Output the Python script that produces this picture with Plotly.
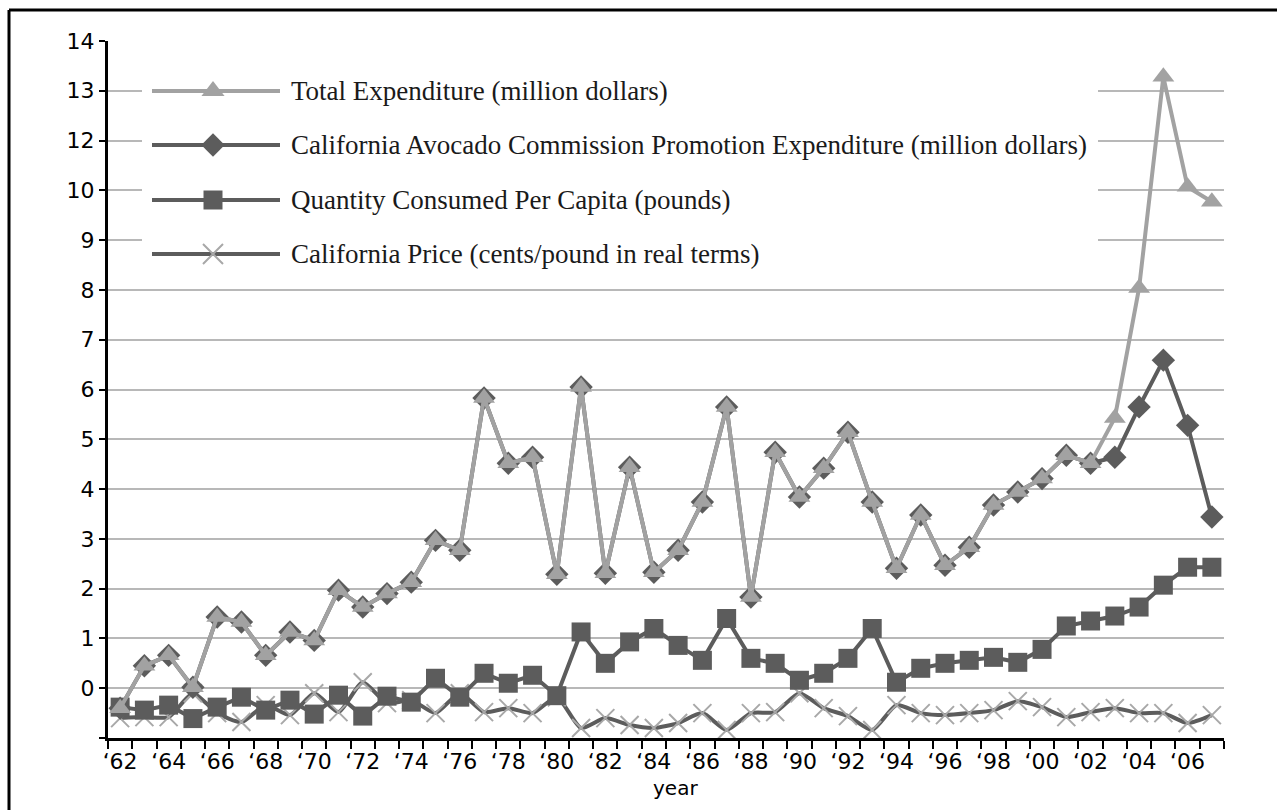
import plotly.graph_objects as go

# ---------------- data ----------------
years = list(range(1962, 2008))

total_expenditure = [-0.4, 0.45, 0.66, 0.02, 1.43, 1.33, 0.66, 1.13, 0.96, 1.97,
                     1.63, 1.9, 2.13, 2.97, 2.77, 5.83, 4.52, 4.64, 2.29, 6.05,
                     2.31, 4.44, 2.33, 2.77, 3.74, 5.65, 1.83, 4.74, 3.84, 4.42,
                     5.14, 3.74, 2.41, 3.48, 2.47, 2.83, 3.68, 3.94, 4.21, 4.68,
                     4.52, 5.43, 8.04, 12.28, 10.07, 9.77]

promotion_expenditure = [-0.4, 0.45, 0.66, 0.02, 1.43, 1.33, 0.66, 1.13, 0.96, 1.97,
                         1.63, 1.9, 2.13, 2.97, 2.77, 5.83, 4.52, 4.64, 2.29, 6.05,
                         2.31, 4.44, 2.33, 2.77, 3.74, 5.65, 1.83, 4.74, 3.84, 4.42,
                         5.14, 3.74, 2.41, 3.48, 2.47, 2.83, 3.68, 3.94, 4.21, 4.68,
                         4.52, 4.64, 5.65, 6.59, 5.28, 3.44]

quantity_per_capita = [-0.38, -0.44, -0.34, -0.61, -0.38, -0.18, -0.44, -0.24, -0.52, -0.14,
                       -0.56, -0.16, -0.28, 0.2, -0.18, 0.3, 0.1, 0.26, -0.15, 1.13,
                       0.5, 0.93, 1.2, 0.86, 0.56, 1.4, 0.6, 0.5, 0.16, 0.3,
                       0.6, 1.2, 0.12, 0.4, 0.5, 0.56, 0.62, 0.52, 0.78, 1.25,
                       1.35, 1.45, 1.63, 2.07, 2.43, 2.43]

california_price = [-0.6, -0.58, -0.58, -0.1, -0.5, -0.68, -0.34, -0.54, -0.1, -0.48,
                     0.12, -0.3, -0.24, -0.5, -0.1, -0.48, -0.4, -0.5, -0.18, -0.8,
                     -0.6, -0.74, -0.8, -0.7, -0.5, -0.84, -0.5, -0.48, -0.1, -0.4,
                     -0.56, -0.84, -0.34, -0.5, -0.54, -0.5, -0.44, -0.26, -0.38, -0.58,
                     -0.48, -0.4, -0.5, -0.5, -0.7, -0.54]

x_tick_years = list(range(1962, 2008, 2))
x_tick_labels = ["\u2018" + str(y)[2:] for y in x_tick_years]

y_tick_positions = list(range(-1, 14))
y_tick_labels = ["", "0", "1", "2", "3", "4", "5", "6", "7", "8", "9", "10", "12", "13", "14"]

series_names = [
    "Total Expenditure (million dollars)",
    "California Avocado Commission Promotion Expenditure (million dollars)",
    "Quantity Consumed Per Capita (pounds)",
    "California Price (cents/pound in real terms)",
]

# ---------------- styles / layout geometry ----------------
LIGHT = "#a2a2a2"
DARK = "#5c5c5c"
XMARK = "#a8a8a8"
SANS = "'DejaVu Sans', sans-serif"
SERIF = "'Liberation Serif', 'DejaVu Serif', serif"

W, H = 1277, 810
PL, PR, PT, PB = 108, 1224, 41, 738   # plot area in pixels


def px_x(p):
    return (p - PL) / (PR - PL)


def px_y(p):
    return (PB - p) / (PB - PT)


fig = go.Figure()

fig.add_trace(go.Scatter(
    x=years, y=california_price, mode="lines+markers",
    line=dict(color=DARK, width=4, shape="spline", smoothing=0.6),
    marker=dict(symbol="x-thin", size=18, line=dict(color=XMARK, width=2)),
    showlegend=False))

fig.add_trace(go.Scatter(
    x=years, y=quantity_per_capita, mode="lines+markers",
    line=dict(color=DARK, width=4),
    marker=dict(symbol="square", size=19, color=DARK),
    showlegend=False))

fig.add_trace(go.Scatter(
    x=years, y=promotion_expenditure, mode="lines+markers",
    line=dict(color=DARK, width=4),
    marker=dict(symbol="diamond", size=18, color=DARK),
    showlegend=False))

fig.add_trace(go.Scatter(
    x=years, y=total_expenditure, mode="lines+markers",
    line=dict(color=LIGHT, width=4),
    marker=dict(symbol="triangle-up", size=19, color=LIGHT),
    showlegend=False))

# ---------------- custom legend on pixel-like overlay axes ----------------
leg_rows = [91, 145, 200, 254]
leg_colors = [LIGHT, DARK, DARK, DARK]
leg_symbols = ["triangle-up", "diamond", "square", "x-thin"]
leg_sizes = [20, 18, 19, 20]

# white background box that hides the gridlines behind the legend
fig.add_trace(go.Scatter(x=[142, 1098, 1098, 142, 142], y=[56, 56, 276, 276, 56],
                         mode="lines", fill="toself", fillcolor="white",
                         line=dict(width=0, color="white"),
                         xaxis="x2", yaxis="y2", showlegend=False, hoverinfo="skip"))

for r, c, s, sz in zip(leg_rows, leg_colors, leg_symbols, leg_sizes):
    fig.add_trace(go.Scatter(x=[152, 280], y=[r, r], mode="lines",
                             line=dict(color=c, width=4),
                             xaxis="x2", yaxis="y2", showlegend=False, hoverinfo="skip"))
    if s == "x-thin":
        mk = dict(symbol=s, size=sz, line=dict(color=XMARK, width=2))
    else:
        mk = dict(symbol=s, size=sz, color=c)
    fig.add_trace(go.Scatter(x=[213], y=[r], mode="markers", marker=mk,
                             xaxis="x2", yaxis="y2", showlegend=False, hoverinfo="skip"))

annotations = []
for r, name in zip(leg_rows, series_names):
    annotations.append(dict(x=px_x(289), y=px_y(r), xref="paper", yref="paper", text=name,
                            showarrow=False, xanchor="left", yanchor="middle",
                            font=dict(family=SERIF, size=27, color="#1a1a1a")))

annotations.append(dict(x=px_x(675), y=px_y(788), xref="paper", yref="paper", text="year",
                        showarrow=False, xanchor="center", yanchor="middle",
                        font=dict(family=SANS, size=20, color="black")))

# outer frame (top and left edges)
shapes = [
    dict(type="line", xref="paper", yref="paper", x0=px_x(9), x1=px_x(W),
         y0=px_y(10), y1=px_y(10), line=dict(color="black", width=3)),
    dict(type="line", xref="paper", yref="paper", x0=px_x(9), x1=px_x(9),
         y0=px_y(10), y1=px_y(H), line=dict(color="black", width=3)),
]

fig.update_layout(
    width=W, height=H,
    margin=dict(l=PL, r=W - PR, t=PT, b=H - PB),
    paper_bgcolor="white", plot_bgcolor="white",
    showlegend=False,
    shapes=shapes, annotations=annotations,
    xaxis=dict(range=[1961.5, 2007.5], tickvals=x_tick_years, ticktext=x_tick_labels,
               ticks="outside", ticklen=2, tickcolor="rgba(0,0,0,0)",
               showgrid=False, zeroline=False,
               showline=True, linecolor="black", linewidth=3,
               tickfont=dict(family=SANS, size=22, color="black"),
               minor=dict(tick0=1961.5, dtick=1, ticks="outside", ticklen=8,
                          tickwidth=2, tickcolor="black", showgrid=False)),
    yaxis=dict(range=[-1, 13], tickvals=y_tick_positions, ticktext=y_tick_labels,
               ticks="outside", ticklen=6, tickwidth=2, tickcolor="black",
               showgrid=True, gridcolor="#b8b8b8", gridwidth=2, zeroline=False,
               showline=True, linecolor="black", linewidth=3,
               tickfont=dict(family=SANS, size=22, color="black")),
    xaxis2=dict(range=[PL, PR], overlaying="x", visible=False),
    yaxis2=dict(range=[PB, PT], overlaying="y", visible=False),
)

fig.write_html("out.html")
